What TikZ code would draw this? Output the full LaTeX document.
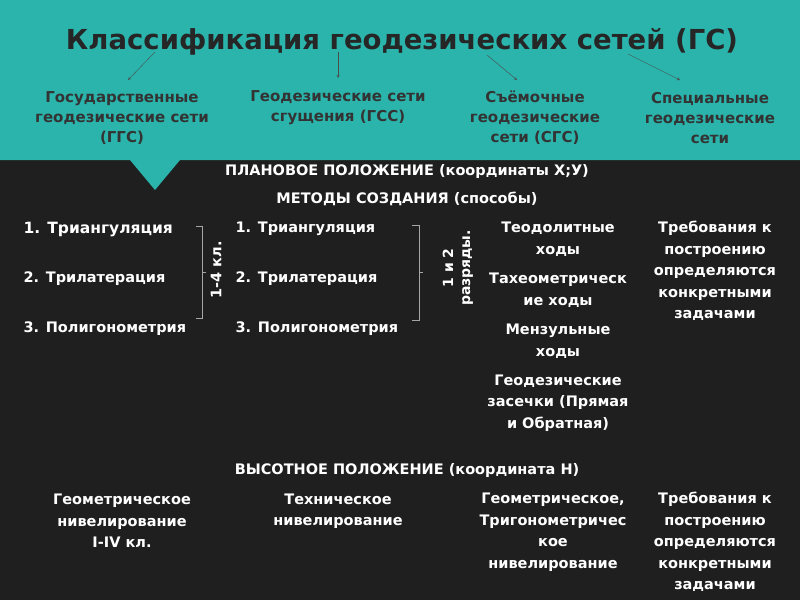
\documentclass[tikz,border=0pt]{standalone}
\usepackage{fontspec}
\setmainfont{DejaVu Sans}
\begin{document}
\begin{tikzpicture}[x=1pt,y=-1pt,
 hd/.style={font=\fontsize{15}{20}\selectfont\bfseries,text=black!80,align=center},
 tx/.style={font=\fontsize{14.5}{21.5}\selectfont\bfseries,text=white,align=center},
 ln/.style={font=\fontsize{14.5}{21.5}\selectfont\bfseries,text=white,anchor=west},
 ar/.style={->,gray!60!black,thin,>=stealth},
 br/.style={gray!70,line width=0.8pt}]
\useasboundingbox (0,0) rectangle (800,600);
\fill[black!88] (0,0) rectangle (800,600);
\fill[color={rgb,255:red,42;green,180;blue,172}] (0,0) -- (800,0) -- (800,160) -- (180,160) -- (155,190) -- (130,160) -- (0,160) -- cycle;
\node[font=\fontsize{27.5}{30}\selectfont\bfseries,text=black!85] (title) at (402,42) {Классификация геодезических сетей (ГС)};
\node[hd] (h1) at (122,118) {Государственные\\геодезические сети\\(ГГС)};
\node[hd] (h2) at (338,108) {Геодезические сети\\сгущения (ГСС)};
\node[hd] (h3) at (535,118) {Съёмочные\\геодезические\\сети (СГС)};
\node[hd] (h4) at (710,118) {Специальные\\геодезические\\сети};
\coordinate (a1) at (155,52); \coordinate (b1) at (128,80);
\coordinate (a2) at (338,52); \coordinate (b2) at (338,78);
\coordinate (a3) at (487,55); \coordinate (b3) at (517,80);
\coordinate (a4) at (628,54); \coordinate (b4) at (680,80);
\foreach \i in {1,...,4} \draw[ar] (a\i) -- (b\i);
\node[tx] (plan) at (407,172) {ПЛАНОВОЕ ПОЛОЖЕНИЕ (координаты Х;У)};
\node[tx] (met) at (407,199) {МЕТОДЫ СОЗДАНИЯ (способы)};
\node[ln,font=\fontsize{15.5}{20}\selectfont\bfseries] (l1) at (20,230) {1. Триангуляция};
\node[ln] (l2) at (20,279) {2. Трилатерация};
\node[ln] (l3) at (20,329) {3. Полигонометрия};
\node[ln] (m1) at (232,229) {1. Триангуляция};
\node[ln] (m2) at (232,279) {2. Трилатерация};
\node[ln] (m3) at (232,329) {3. Полигонометрия};
\draw[br] (196,226) -- (202,226) -- (202,318) -- (196,318) (202,272) -- (206,272);
\node[tx,rotate=90] (k1) at (216,270) {1-4 кл.};
\draw[br] (412,225) -- (419,225) -- (419,320) -- (412,320) (419,272) -- (423,272);
\node[tx,rotate=90,font=\fontsize{14}{17}\selectfont\bfseries] (k2) at (458,268) {1 и 2\\разряды.};
\node[tx] (c1) at (558,239) {Теодолитные\\ходы};
\node[tx] (c2) at (558,290) {Тахеометрическ\\ие ходы};
\node[tx] (c3) at (558,341) {Мензульные\\ходы};
\node[tx] (c4) at (558,403) {Геодезические\\засечки (Прямая\\и Обратная)};
\node[tx] (d1) at (715,271) {Требования к\\построению\\определяются\\конкретными\\задачами};
\node[tx] (vys) at (407,470) {ВЫСОТНОЕ ПОЛОЖЕНИЕ (координата Н)};
\node[tx] (e1) at (122,521) {Геометрическое\\нивелирование\\I-IV кл.};
\node[tx] (e2) at (338,511) {Техническое\\нивелирование};
\node[tx] (e3) at (553,532) {Геометрическое,\\Тригонометричес\\кое\\нивелирование};
\node[tx] (e4) at (715,542) {Требования к\\построению\\определяются\\конкретными\\задачами};
\end{tikzpicture}
\end{document}
